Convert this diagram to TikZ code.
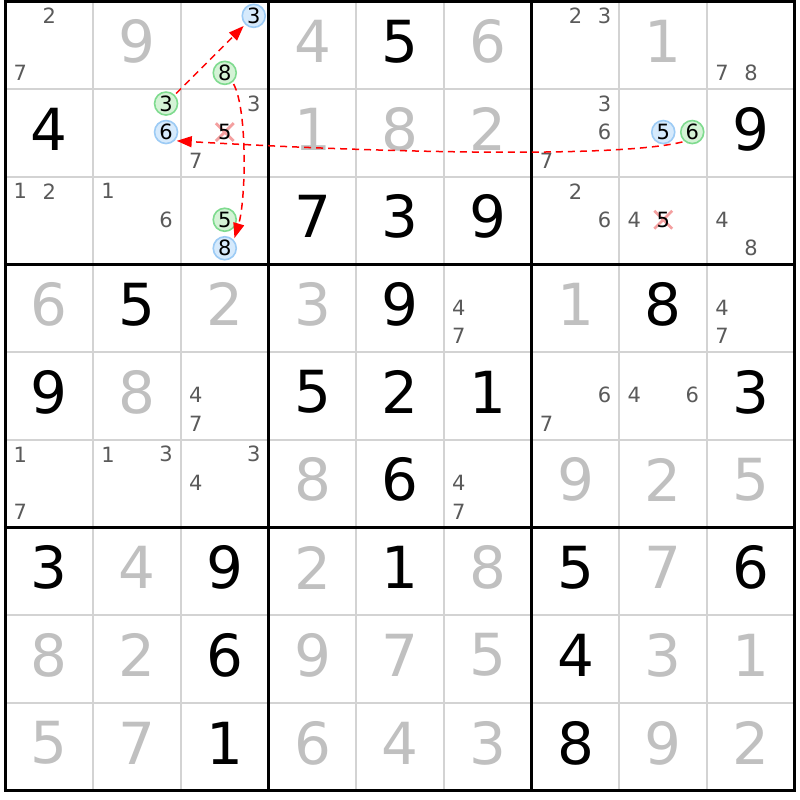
\documentclass[tikz,border=0pt]{standalone}
\usepackage{fontspec}
\setmainfont{DejaVu Sans}
\usetikzlibrary{arrows.meta,shapes.misc}
\definecolor{thingrid}{HTML}{D3D3D3}
\definecolor{solv}{HTML}{C0C0C0}
\definecolor{cand}{HTML}{5A5A5A}
\definecolor{bluefill}{HTML}{D6EAFC}
\definecolor{blueline}{HTML}{9CCBF5}
\definecolor{greenfill}{HTML}{D4F3D6}
\definecolor{greenline}{HTML}{7FDB8F}
\definecolor{xred}{HTML}{F4A0A0}
\definecolor{linkred}{HTML}{FF0000}
\tikzset{
  bigdigit/.style={inner sep=0pt, font=\fontsize{58}{58}\selectfont},
  given/.style={bigdigit, text=black},
  solved/.style={bigdigit, text=solv},
  cnd/.style={inner sep=0pt, font=\fontsize{21}{21}\selectfont, text=cand},
  crossd/.style={cnd, text=black},
  hlb/.style={circle, draw=blueline, fill=bluefill, line width=1.6pt, minimum size=23pt, inner sep=0pt, font=\fontsize{21}{21}\selectfont, text=black},
  hlg/.style={circle, draw=greenline, fill=greenfill, line width=1.6pt, minimum size=23pt, inner sep=0pt, font=\fontsize{21}{21}\selectfont, text=black},
  xmark/.style={cross out, draw=xred, line width=2.8pt, minimum size=15pt, inner sep=0pt},
  link/.style={draw=linkred, line width=1.5pt, dash pattern=on 7pt off 5pt, -{Triangle[length=15pt,width=11pt,fill=linkred]}, shorten >=2pt, shorten <=2pt},
  thinline/.style={draw=thingrid, line width=2pt},
  thickline/.style={draw=black, line width=3.2pt},
}
\begin{document}
\begin{tikzpicture}[x=1pt,y=-1pt]
\fill[white] (0,0) rectangle (800,800);
\useasboundingbox (0,0) rectangle (800,800);
% grid
\foreach \i in {1,2,4,5,7,8} {
  \draw[thinline] ({5.5+\i*87.7},1.5) -- ({5.5+\i*87.7},790.8);
  \draw[thinline] (5.5,{1.5+\i*87.7}) -- (794.8,{1.5+\i*87.7});
}
\foreach \i in {0,3,6,9} {
  \draw[thickline] ({5.5+\i*87.7},0) -- ({5.5+\i*87.7},792.4);
  \draw[thickline] (3.9,{1.5+\i*87.7}) -- (796.4,{1.5+\i*87.7});
}
% givens
\foreach \r/\c/\d in {1/5/5,2/1/4,2/9/9,3/4/7,3/5/3,3/6/9,4/2/5,4/5/9,4/8/8,5/1/9,5/4/5,5/5/2,5/6/1,5/9/3,6/5/6,7/1/3,7/3/9,7/5/1,7/7/5,7/9/6,8/3/6,8/7/4,9/3/1,9/7/8} {
  \node[given] (n\r\c) at ({5.5+(\c-0.5)*87.7},{1.5+(\r-0.5)*87.7-4}) {\d};
}
% solved
\foreach \r/\c/\d in {1/2/9,1/4/4,1/6/6,1/8/1,2/4/1,2/5/8,2/6/2,4/1/6,4/3/2,4/4/3,4/7/1,5/2/8,6/4/8,6/7/9,6/8/2,6/9/5,7/2/4,7/4/2,7/6/8,7/8/7,8/1/8,8/2/2,8/4/9,8/5/7,8/6/5,8/8/3,8/9/1,9/1/5,9/2/7,9/4/6,9/5/4,9/6/3,9/8/9,9/9/2} {
  \node[solved] (n\r\c) at ({5.5+(\c-0.5)*87.7},{1.5+(\r-0.5)*87.7-4}) {\d};
}
% crossed-out marks
\node[xmark] (x235) at (224.75,132.05) {};
\node[xmark] (x385) at (663.25,219.75) {};
% candidates
\foreach \r/\c/\d/\s in {1/1/2/cnd,1/1/7/cnd,1/7/2/cnd,1/7/3/cnd,1/9/7/cnd,1/9/8/cnd,
  2/3/3/cnd,2/3/7/cnd,2/3/5/crossd,2/7/3/cnd,2/7/6/cnd,2/7/7/cnd,
  3/1/1/cnd,3/1/2/cnd,3/2/1/cnd,3/2/6/cnd,3/7/2/cnd,3/7/6/cnd,3/8/4/cnd,3/8/5/crossd,3/9/4/cnd,3/9/8/cnd,
  4/6/4/cnd,4/6/7/cnd,4/9/4/cnd,4/9/7/cnd,5/3/4/cnd,5/3/7/cnd,5/7/6/cnd,5/7/7/cnd,5/8/4/cnd,5/8/6/cnd,
  6/1/1/cnd,6/1/7/cnd,6/2/1/cnd,6/2/3/cnd,6/3/3/cnd,6/3/4/cnd,6/6/4/cnd,6/6/7/cnd,
  1/3/3/hlb,1/3/8/hlg,2/2/3/hlg,2/2/6/hlb,2/8/5/hlb,2/8/6/hlg,3/3/5/hlg,3/3/8/hlb} {
  \pgfmathtruncatemacro\kc{mod(\d-1,3)}
  \pgfmathtruncatemacro\kr{div(\d-1,3)}
  \node[\s] (c\r\c\d) at ({5.5+(\c-0.5)*87.7+(\kc-1)*29},{1.5+(\r-0.5)*87.7+(\kr-1)*28.5-1}) {\d};
}
% links
\draw[link] (c223) -- (c133);
\draw[link] (c138.-50) .. controls +(15,28) and +(12,-40) .. (c338.42);
\draw[link] (c286.-130) .. controls +(-65,16) and +(227,13) .. (c226.-45);
\end{tikzpicture}
\end{document}
